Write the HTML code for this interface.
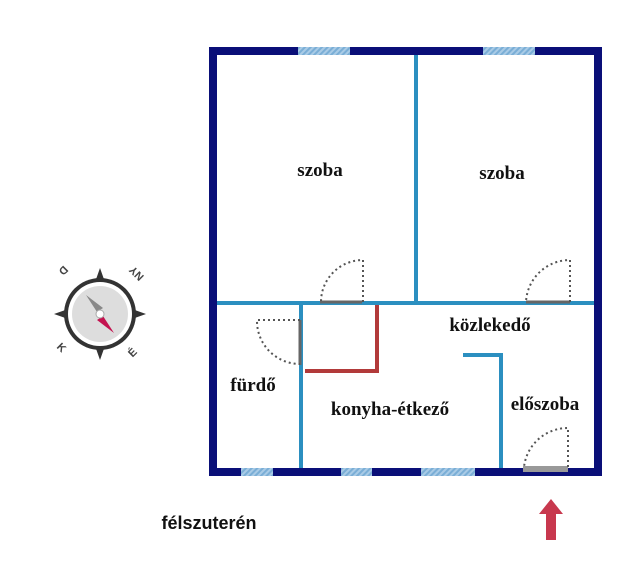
<!DOCTYPE html>
<html><head><meta charset="utf-8"><style>
body{margin:0;background:#fff;width:640px;height:577px;overflow:hidden}
</style></head><body>
<svg width="640" height="577" xmlns="http://www.w3.org/2000/svg">
<defs>
<pattern id="h" width="4" height="4" patternUnits="userSpaceOnUse" patternTransform="rotate(45)">
<rect width="4" height="4" fill="#a9cbe6"/><rect width="2" height="4" fill="#7aaed6"/></pattern>
</defs>
<rect x="213" y="51" width="385" height="421" fill="none" stroke="#0a0f78" stroke-width="8"/>
<rect x="298" y="47" width="52" height="8" fill="url(#h)"/>
<rect x="483" y="47" width="52" height="8" fill="url(#h)"/>
<rect x="241" y="468" width="32" height="8" fill="url(#h)"/>
<rect x="341" y="468" width="31" height="8" fill="url(#h)"/>
<rect x="421" y="468" width="54" height="8" fill="url(#h)"/>
<rect x="523" y="466" width="45" height="6" fill="#999"/>
<g stroke="#2b8fc0" stroke-width="4" fill="none">
<line x1="217" y1="303" x2="594" y2="303"/>
<line x1="416" y1="55" x2="416" y2="303"/>
<line x1="301" y1="303" x2="301" y2="468"/>
<polyline points="463,355 501,355 501,468"/>
</g>
<polyline points="377,305 377,371 305,371" stroke="#b23a3a" stroke-width="4" fill="none"/>
<line x1="300" y1="320" x2="300" y2="365" stroke="#666" stroke-width="3"/>
<line x1="320" y1="302" x2="362" y2="302" stroke="#666" stroke-width="3"/>
<line x1="526" y1="302" x2="570" y2="302" stroke="#666" stroke-width="3"/>
<g stroke="#555" stroke-width="2" stroke-dasharray="2,3" fill="none">
<path d="M363 302 V260 A42 42 0 0 0 321 302"/>
<path d="M570 302 V260 A44 44 0 0 0 526 302"/>
<path d="M300 320 H257 A43 43 0 0 0 300 364"/>
<path d="M568 467 V428 A44 44 0 0 0 524 467"/>
</g>
<g font-family="Liberation Serif, serif" font-weight="bold" font-size="19" fill="#111" text-anchor="middle">
<text x="320" y="176">szoba</text>
<text x="502" y="179">szoba</text>
<text x="490" y="331">közlekedő</text>
<text x="253" y="391">fürdő</text>
<text x="390" y="415">konyha-étkező</text>
<text x="545" y="410">előszoba</text>
</g>
<text x="209" y="529" font-family="Liberation Sans, sans-serif" font-weight="bold" font-size="18" text-anchor="middle" fill="#111">félszuterén</text>
<polygon points="551,499 563,514 556,514 556,540 546,540 546,514 539,514" fill="#c8384e"/>
<g transform="translate(100,314)">
<polygon points="0,-46 12,-12 46,0 12,12 0,46 -12,12 -46,0 -12,-12" fill="#333"/>
<circle r="36" fill="#333"/>
<circle r="32" fill="#fff"/>
<circle r="28" fill="#ddd"/>
<polygon points="-14,-19 -3,-2 3,-6" fill="#888"/>
<polygon points="14,19 3,2 -3,6" fill="#c4124f"/>
<circle r="4" fill="#fff" stroke="#aaa"/>
<g font-family="Liberation Sans, sans-serif" font-weight="bold" font-size="11" fill="#444" text-anchor="middle">
<text x="-37" y="-41" transform="rotate(135,-37,-44)">D</text>
<text x="37" y="-38" transform="rotate(-135,37,-41)">NY</text>
<text x="-39" y="37" transform="rotate(45,-39,34)">K</text>
<text x="33" y="42" transform="rotate(-45,33,39)">É</text>
</g>
</g>
</svg>
</body></html>
